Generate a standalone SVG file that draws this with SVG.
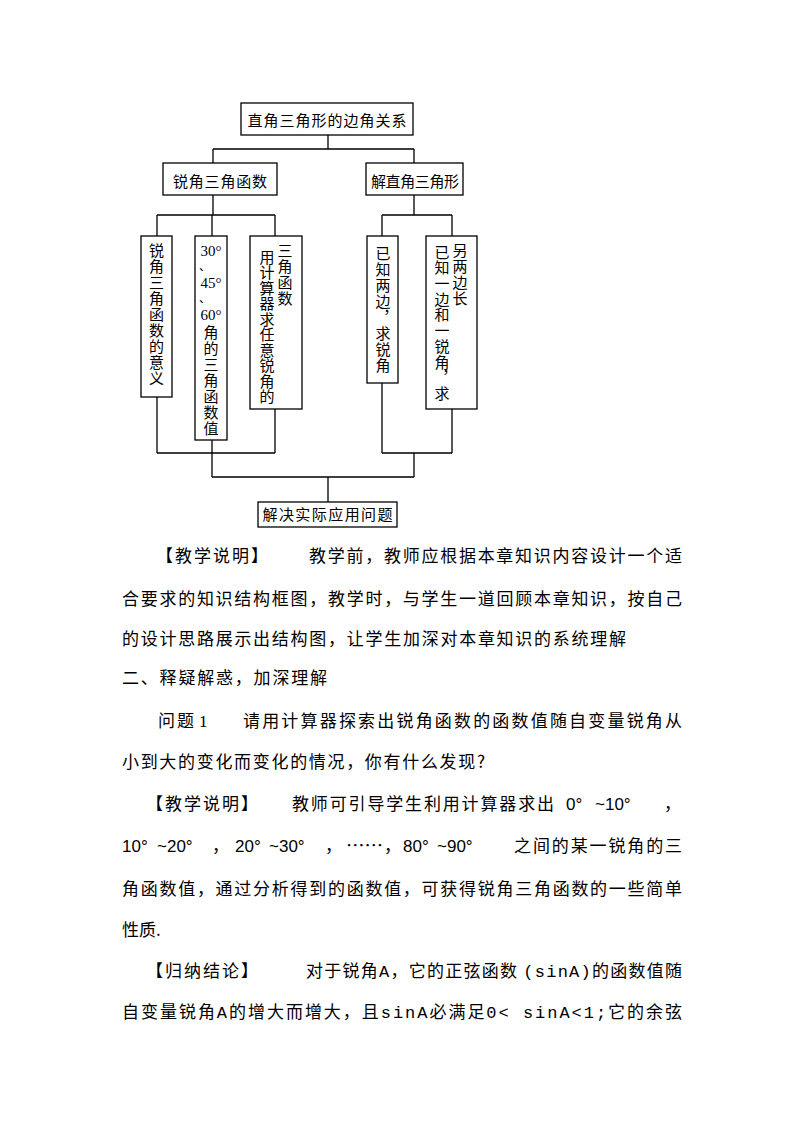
<svg xmlns="http://www.w3.org/2000/svg" width="794" height="1123" viewBox="0 0 794 1123">
<style>
.box{fill:#fff;stroke:#000;stroke-width:1.3}
.ln{fill:none;stroke:#000;stroke-width:1.3}
.d{font-family:"Noto Sans CJK SC","Noto Sans CJK TC",sans-serif;font-size:15px;fill:#000}
.v{font-family:"Noto Sans CJK SC","Noto Sans CJK TC",sans-serif;font-size:15px;fill:#000;writing-mode:vertical-rl;letter-spacing:1px}
.dn{font-family:"Liberation Serif",serif;font-size:15px;fill:#000}
.t{font-family:"Noto Sans CJK SC","Noto Sans CJK TC",sans-serif;font-size:17px;fill:#000}
.m{font-family:"Liberation Mono",monospace}
.s{font-family:"Liberation Sans",sans-serif;font-size:17px;fill:#000}
</style>
<rect width="794" height="1123" fill="#fff"/>
<g id="connectors">
<path class="ln" d="M328 135V149M213 149H414M213 149V163M414 149V163"/>
<path class="ln" d="M213 195V215M157 215H275M157 215V236M212 215V236M275 215V236"/>
<path class="ln" d="M414 195V215M382 215H452M382 215V236M452 215V236"/>
<path class="ln" d="M157 397V453M275 409V453M157 453H275M212 440V477"/>
<path class="ln" d="M382 383V453M452 409V453M382 453H452M414 453V477"/>
<path class="ln" d="M212 477H414M328 477V502"/>
</g>
<g id="n-top">
<rect class="box" x="241" y="103" width="172" height="32"/>
<text class="d" x="327" y="125.5" text-anchor="middle" textLength="159" lengthAdjust="spacing">直角三角形的边角关系</text>
</g>
<g id="n-acute">
<rect class="box" x="163" y="163" width="114" height="32"/>
<text class="d" x="220" y="186.5" text-anchor="middle" textLength="94" lengthAdjust="spacing">锐角三角函数</text>
</g>
<g id="n-solve">
<rect class="box" x="366" y="163" width="97" height="32"/>
<text class="d" x="415" y="186.5" text-anchor="middle" textLength="88" lengthAdjust="spacing">解直角三角形</text>
</g>
<g id="n-meaning">
<rect class="box" x="141" y="236" width="31" height="161"/>
<text class="v" x="156.5" y="242.5">锐角三角函数的意义</text>
</g>
<g id="n-special">
<rect class="box" x="195" y="236" width="32" height="204"/>
<text class="dn" x="211" y="255.5" text-anchor="middle">30°</text>
<text class="dn" x="211" y="287.5" text-anchor="middle">45°</text>
<text class="dn" x="211" y="319.5" text-anchor="middle">60°</text>
<text class="d" x="199" y="271" style="font-size:12px">、</text>
<text class="d" x="199" y="303" style="font-size:12px">、</text>
<text class="v" x="211" y="324.5">角的三角函数值</text>
</g>
<g id="n-calc">
<rect class="box" x="250" y="236" width="52" height="173"/>
<text class="v" x="267" y="249.5" style="letter-spacing:0.5px">用计算器求任意锐角的</text>
<text class="v" x="285" y="242.5">三角函数</text>
</g>
<g id="n-twosides">
<rect class="box" x="367" y="236" width="31" height="147"/>
<text class="v" x="383" y="245.5">已知两边，求锐角</text>
</g>
<g id="n-oneside">
<rect class="box" x="426" y="236" width="51" height="173"/>
<text class="v" x="442" y="244.5" style="letter-spacing:0.7px">已知一边和一锐角，求</text>
<text class="v" x="460" y="242.5">另两边长</text>
</g>
<g id="n-apply">
<rect class="box" x="258" y="502" width="139" height="25"/>
<text class="d" x="327.5" y="520" text-anchor="middle" textLength="130" lengthAdjust="spacing">解决实际应用问题</text>
</g>
<g id="body">
<text class="t" x="156" y="561.5" textLength="112" lengthAdjust="spacing">【教学说明】</text>
<text class="t" x="309" y="561.5" textLength="373" lengthAdjust="spacing">教学前，教师应根据本章知识内容设计一个适</text>
<text class="t" x="122" y="604.5" textLength="560" lengthAdjust="spacing">合要求的知识结构框图，教学时，与学生一道回顾本章知识，按自己</text>
<text class="t" x="122" y="644.5" textLength="504" lengthAdjust="spacing">的设计思路展示出结构图，让学生加深对本章知识的系统理解</text>
<text class="t" x="122" y="683.5" textLength="205" lengthAdjust="spacing">二、释疑解惑，加深理解</text>
<text class="t" x="158" y="726.5" textLength="36" lengthAdjust="spacing">问题</text>
<text class="dn" x="199" y="726.5" style="font-size:17px">1</text>
<text class="t" x="243" y="726.5" textLength="439" lengthAdjust="spacing">请用计算器探索出锐角函数的函数值随自变量锐角从</text>
<text class="t" x="122" y="767.5" textLength="363" lengthAdjust="spacing">小到大的变化而变化的情况，你有什么发现?</text>
<text class="t" x="146" y="809.5" textLength="112" lengthAdjust="spacing">【教学说明】</text>
<text class="t" x="292" y="809.5" textLength="262" lengthAdjust="spacing">教师可引导学生利用计算器求出</text>
<text class="s" x="566" y="809.5">0°</text>
<text class="s" x="595" y="809.5">~10°</text>
<text class="t" x="664" y="809.5">，</text>
<text class="s" x="122" y="851.5">10°</text>
<text class="s" x="157" y="851.5">~20°</text>
<text class="t" x="212" y="851.5">，</text>
<text class="s" x="235" y="851.5">20°</text>
<text class="s" x="269" y="851.5">~30°</text>
<text class="t" x="325" y="851.5">，</text>
<text class="t" x="346" y="851.5" textLength="37" lengthAdjust="spacingAndGlyphs">……</text>
<text class="t" x="384" y="851.5">，</text>
<text class="s" x="403" y="851.5">80°</text>
<text class="s" x="437" y="851.5">~90°</text>
<text class="t" x="514" y="851.5" textLength="168" lengthAdjust="spacing">之间的某一锐角的三</text>
<text class="t" x="122" y="894.5" textLength="560" lengthAdjust="spacing">角函数值，通过分析得到的函数值，可获得锐角三角函数的一些简单</text>
<text class="t" x="122" y="935.5">性质.</text>
<text class="t" x="146" y="976.5" textLength="112" lengthAdjust="spacing">【归纳结论】</text>
<text class="t" x="306" y="976.5" textLength="376" lengthAdjust="spacing">对于锐角<tspan class="m">A</tspan>，它的正弦函数 <tspan class="m">(sinA)</tspan>的函数值随</text>
<text class="t" x="122" y="1017.5" textLength="560" lengthAdjust="spacing">自变量锐角<tspan class="m">A</tspan>的增大而增大，且<tspan class="m">sinA</tspan>必满足<tspan class="m">0&lt; sinA&lt;1;</tspan>它的余弦</text>
</g>
</svg>
